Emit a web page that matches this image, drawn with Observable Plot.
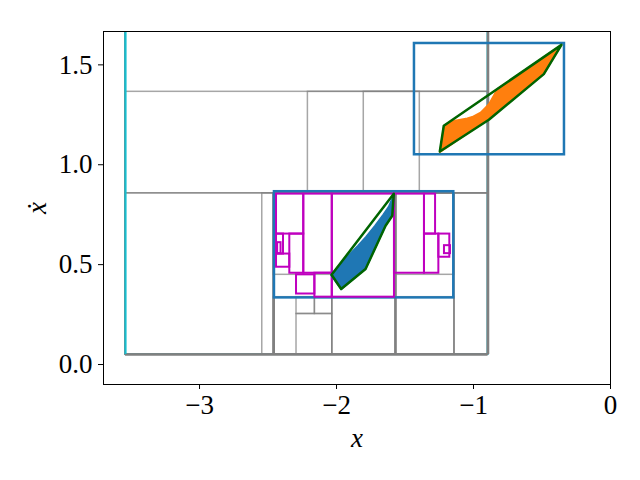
<!DOCTYPE html>
<html><head><meta charset="utf-8">
<script src="https://cdn.jsdelivr.net/npm/d3@7"></script>
<script src="https://cdn.jsdelivr.net/npm/@observablehq/plot@0.6"></script>
<style>
html,body{margin:0;padding:0;background:#fff;}
svg{display:block;}
</style></head><body><div id="chart"></div>
<script>
// axis ticks and labels
const xTicks = [-3, -2, -1, 0];
const yTicks = [0, 0.5, 1.0, 1.5];
const xLabel = "x";
const yLabel = "ẋ";

// [x1, x2, y1, y2] cells
const grayCells = [
  [-3.54, -0.894, 0.05, 1.9],
  [-3.54, -0.894, 0.05, 0.857],
  [-3.54, -0.894, 0.857, 1.365],
  [-2.209, -0.894, 0.857, 1.365],
  [-1.801, -1.392, 0.857, 1.365],
  [-2.542, -0.894, 0.05, 0.857],
  [-2.458, -1.139, 0.05, 0.857],
  [-2.458, -2.031, 0.05, 0.857],
  [-2.031, -1.569, 0.05, 0.857],
  [-1.569, -1.139, 0.05, 0.857],
  [-2.458, -2.031, 0.449, 0.857],
  [-1.569, -1.139, 0.449, 0.857],
  [-2.458, -1.139, 0.05, 0.337],
  [-2.292, -2.031, 0.05, 0.253],
  [-2.292, -2.158, 0.253, 0.337],
  [-2.158, -2.031, 0.253, 0.337]
];
// heavier partition edges: vertical [x, y1, y2], horizontal [y, x1, x2]
const grayThickV = [[-0.894, 0.05, 1.9], [-2.458, 0.05, 0.857], [-1.569, 0.05, 0.857]];
const grayThickH = [[0.05, -3.54, -0.894]];
const tealBox = [[-3.54, -0.894, 0.05, 1.9]];
const tealLeft = [[-3.54, 0.05, 1.9]];
const magentaCells = [
  [-2.438, -2.239, 0.653, 0.853],
  [-2.239, -2.031, 0.457, 0.853],
  [-2.031, -1.577, 0.337, 0.853],
  [-1.577, -1.358, 0.457, 0.853],
  [-1.358, -1.277, 0.653, 0.853],
  [-2.341, -2.239, 0.457, 0.653],
  [-2.438, -2.341, 0.487, 0.553],
  [-2.438, -2.387, 0.553, 0.653],
  [-2.430, -2.405, 0.555, 0.610],
  [-2.292, -2.158, 0.353, 0.449],
  [-2.158, -2.031, 0.337, 0.457],
  [-1.358, -1.253, 0.457, 0.653],
  [-1.253, -1.173, 0.537, 0.653],
  [-1.212, -1.168, 0.555, 0.595]
];
const blueBoxes = [
  [-2.453, -1.144, 0.3335, 0.865],
  [-1.431, -0.336, 1.05, 1.607]
];

// polygons [x, y]
const lowerFill = [[-1.582,0.855],[-1.593,0.745],[-1.642,0.695],[-1.788,0.478],[-1.966,0.376],[-2.04,0.447],[-2.004,0.478],[-1.95,0.52],[-1.895,0.56],[-1.845,0.595],[-1.785,0.64],[-1.72,0.695],[-1.66,0.75],[-1.62,0.79],[-1.595,0.83]];
const lowerHull = [[-2.036,0.449],[-1.966,0.378],[-1.788,0.478],[-1.642,0.695],[-1.593,0.745],[-1.582,0.855]];
const upperFill = [[-1.246,1.0615],[-1.217,1.195],[-1.144,1.22],[-1.046,1.233],[-1.010,1.24],[-0.949,1.2615],[-0.888,1.3035],[-0.827,1.3785],[-0.535,1.5165],[-0.358,1.60],[-0.487,1.4535],[-0.888,1.2285]];
const upperHull = [[-1.246,1.0665],[-1.217,1.195],[-0.358,1.60],[-0.487,1.4535],[-0.888,1.225]];

const toRects = arr => arr.map(([x1, x2, y1, y2]) => ({x1, x2, y1, y2}));
const toPts = arr => arr.map(([x, y]) => ({x, y}));
const toV = arr => arr.map(([x, y1, y2]) => ({x, y1, y2}));
const toH = arr => arr.map(([y, x1, x2]) => ({y, x1, x2}));
const fmtX = d => d === 0 ? "0" : (d < 0 ? "\u2212" : "") + Math.abs(d);
const rectOpts = {x1: "x1", x2: "x2", y1: "y1", y2: "y2", fill: "none", clip: true};

const chart = Plot.plot({
  width: 640, height: 480,
  marginLeft: 103, marginRight: 30, marginTop: 31, marginBottom: 96,
  style: {fontFamily: "'Liberation Serif', 'DejaVu Serif', serif", fontSize: "27px", background: "white", color: "black"},
  x: {domain: [-3.701, 0]},
  y: {domain: [-0.1, 1.667]},
  marks: [
    Plot.rect(toRects(tealBox), {...rectOpts, stroke: "#17becf", strokeWidth: 2}),
    Plot.rect(toRects(grayCells), {...rectOpts, stroke: "#808080", strokeOpacity: 0.7, strokeWidth: 1.5}),
    Plot.ruleX(toV(grayThickV), {x: "x", y1: "y1", y2: "y2", stroke: "#808080", strokeWidth: 2.5, clip: true}),
    Plot.ruleY(toH(grayThickH), {y: "y", x1: "x1", x2: "x2", stroke: "#808080", strokeWidth: 2.5}),
    Plot.ruleX(toV(tealLeft), {x: "x", y1: "y1", y2: "y2", stroke: "#17becf", strokeWidth: 2, clip: true}),
    Plot.rect(toRects(blueBoxes), {...rectOpts, stroke: "#1f77b4", strokeWidth: 2.5}),
    Plot.rect(toRects(magentaCells), {...rectOpts, stroke: "#bf00bf", strokeWidth: 2}),
    Plot.line(toPts(lowerFill), {x: "x", y: "y", curve: "linear-closed", fill: "#1f77b4", stroke: "#1f77b4", strokeWidth: 1.5}),
    Plot.line(toPts(upperFill), {x: "x", y: "y", curve: "linear-closed", fill: "#ff7f0e", stroke: "#ff7f0e", strokeWidth: 1.5}),
    Plot.line(toPts(lowerHull), {x: "x", y: "y", curve: "linear-closed", stroke: "#006400", strokeWidth: 2.5}),
    Plot.line(toPts(upperHull), {x: "x", y: "y", curve: "linear-closed", stroke: "#006400", strokeWidth: 2.5}),
    Plot.axisX({ticks: xTicks, tickSize: 5, tickPadding: 5, tickFormat: fmtX, label: null}),
    Plot.axisY({ticks: yTicks, tickSize: 5, tickPadding: 6, tickFormat: d3.format(".1f"), label: null}),
    Plot.frame({stroke: "black", strokeWidth: 1}),
    Plot.text([xLabel], {text: d => d, frameAnchor: "bottom", dy: 54, fontStyle: "italic", fontSize: 27, lineAnchor: "middle"}),
    Plot.text([yLabel], {text: d => d, frameAnchor: "left", dx: -66, rotate: -90, textAnchor: "middle", lineAnchor: "middle", fontStyle: "italic", fontSize: 27})
  ]
});
document.getElementById("chart").appendChild(chart);
</script>
</body></html>
